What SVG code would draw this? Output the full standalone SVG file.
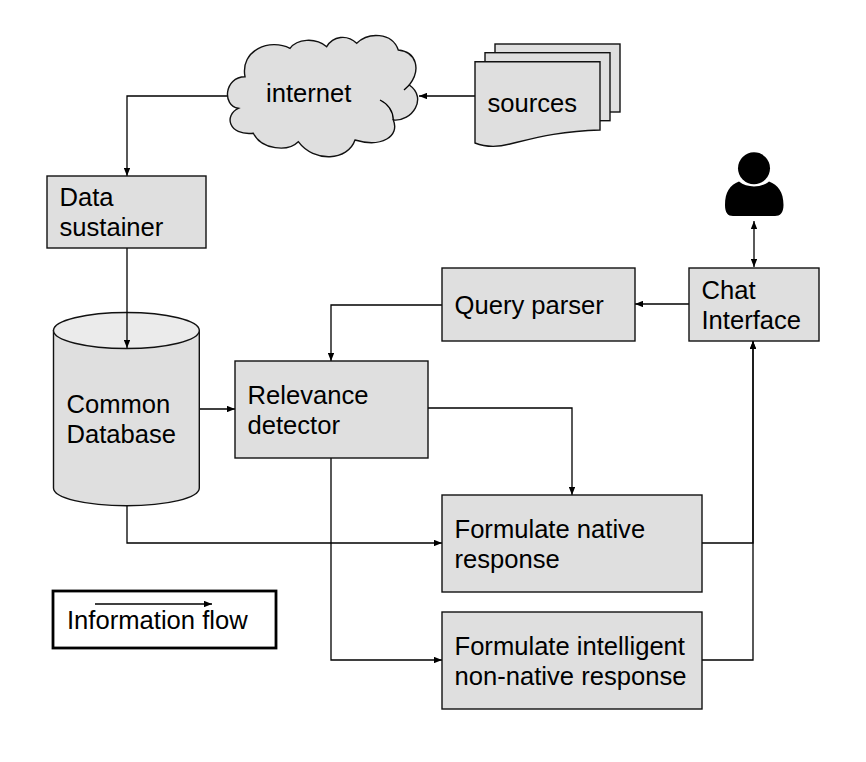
<svg xmlns="http://www.w3.org/2000/svg" width="866" height="762" viewBox="0 0 866 762">
<style>
.s{fill:#dfdfdf;stroke:#111;stroke-width:1.4}
.c{fill:none;stroke:#000;stroke-width:1.3}
.t{font-family:"Liberation Sans",Arial,sans-serif;font-size:25.6px;fill:#000}
</style>
<defs>
<marker id="a" viewBox="0 0 10 8" refX="10" refY="4" markerUnits="userSpaceOnUse" markerWidth="8.500" markerHeight="6.500" orient="auto-start-reverse"><path d="M0 0L10 4L0 8Z" fill="#000"/></marker>
</defs>
<rect width="866" height="762" fill="#fff"/>
<g id="connectors">
<path class="c" d="M227 96H127V176" marker-end="url(#a)"/>
<path class="c" d="M127 248V348" marker-end="url(#a)"/>
<path class="c" d="M475 96H419" marker-end="url(#a)"/>
<path class="c" d="M754 221V267" marker-start="url(#a)" marker-end="url(#a)"/>
<path class="c" d="M689 304H635" marker-end="url(#a)"/>
<path class="c" d="M442 305H331V361" marker-end="url(#a)"/>
<path class="c" d="M199 409H235" marker-end="url(#a)"/>
<path class="c" d="M428 408H572V495" marker-end="url(#a)"/>
<path class="c" d="M127 506V543H442" marker-end="url(#a)"/>
<path class="c" d="M331 458V660H442" marker-end="url(#a)"/>
<path class="c" d="M702 543H753V341" marker-end="url(#a)"/>
<path class="c" d="M702 660H753V341" marker-end="url(#a)"/>
</g>
<g id="internet">
<path class="s" d="M245 76.700C224 77 222 106 238.300 108.300C224 115 228 136 253.300 133.300C262 150 288 152 298.300 141.700C314 163 348 161 355 140C382 148 400 136 393.300 120C412 122 428 98 409.300 85C421 70 417 52 398.300 50C392 32 368 32 356.700 43.300C347 34 333 36 326.700 46.700C315 37 297 39 290 48.300C270 38 240 50 245 76.700Z"/>
<path class="c" d="M380 100C388 104 393 111 393.300 120M409.300 85L404 90"/>
<text class="t" x="266" y="102">internet</text>
</g>
<g id="sources">
<rect class="s" x="495" y="44" width="125" height="68"/>
<rect class="s" x="485" y="52.700" width="125" height="68"/>
<path class="s" d="M475 61.700H600V130C560 131 535 138 510 144C495 148 485 147 475 143Z"/>
<text class="t" x="487.500" y="112">sources</text>
</g>
<g id="user">
<circle cx="754" cy="168.300" r="16" fill="#000"/>
<path fill="#000" d="M725 205C725 192 730 185 739 181.500C747 188 761 188 769 181.500C778 185 783.500 192 783.500 205C783.500 213 780 216 775 216H733C728 216 725 213 725 205Z"/>
</g>
<g id="data-sustainer">
<rect class="s" x="47" y="176" width="159" height="72"/>
<text class="t" x="59.500" y="206">Data</text>
<text class="t" x="59.500" y="236">sustainer</text>
</g>
<g id="common-database">
<path class="s" d="M53.500 330.500V488C53.500 498 86 505.700 126.500 505.700C167 505.700 199.300 498 199.300 488V330.500Z"/>
<ellipse cx="126.400" cy="330.500" rx="72.900" ry="18" fill="#ebebeb" stroke="#111" stroke-width="1.400"/>
<path class="c" d="M127 312V348" marker-end="url(#a)"/>
<text class="t" x="66.500" y="413">Common</text>
<text class="t" x="66.500" y="443">Database</text>
</g>
<g id="query-parser">
<rect class="s" x="442" y="268" width="193" height="73"/>
<text class="t" x="454.500" y="314">Query parser</text>
</g>
<g id="chat-interface">
<rect class="s" x="689" y="268" width="130" height="73"/>
<text class="t" x="701.500" y="299">Chat</text>
<text class="t" x="701.500" y="329">Interface</text>
</g>
<g id="relevance-detector">
<rect class="s" x="235" y="361" width="193" height="97"/>
<text class="t" x="247.500" y="404">Relevance</text>
<text class="t" x="247.500" y="434">detector</text>
</g>
<g id="native-response">
<rect class="s" x="442" y="495" width="260" height="97"/>
<text class="t" x="454.500" y="538">Formulate native</text>
<text class="t" x="454.500" y="568">response</text>
</g>
<g id="intelligent-response">
<rect class="s" x="442" y="612" width="260" height="97"/>
<text class="t" x="454.500" y="655">Formulate intelligent</text>
<text class="t" x="454.500" y="685">non-native response</text>
</g>
<g id="legend">
<rect x="53" y="591" width="223" height="57" fill="#fff" stroke="#000" stroke-width="2.800"/>
<path class="c" d="M95 604H212" marker-end="url(#a)"/>
<text class="t" x="67" y="629">Information flow</text>
</g>
</svg>
